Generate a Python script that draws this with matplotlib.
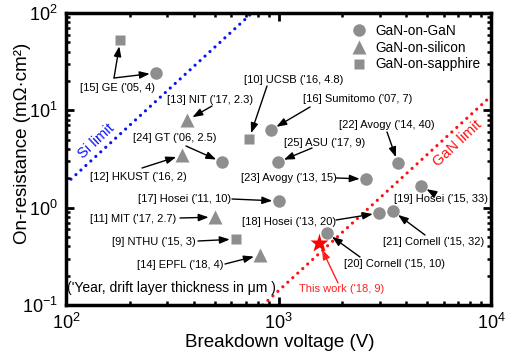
import matplotlib
matplotlib.use("Agg")
import matplotlib.pyplot as plt

plt.rcParams['font.family'] = ['Liberation Sans', 'DejaVu Sans']
plt.rcParams['mathtext.fontset'] = 'custom'
plt.rcParams['mathtext.rm'] = 'Liberation Sans'
plt.rcParams['mathtext.it'] = 'Liberation Sans:italic'
plt.rcParams['mathtext.default'] = 'regular'

# ---------------- data ----------------
gan_gan_names = ["GE05", "GT06", "Sumitomo07", "ASU17", "Avogy14", "Avogy13",
                 "Hosei15", "Hosei13", "Cornell15_32", "Cornell15_10", "Hosei11"]
gan_gan_bv = [265, 542, 922, 995, 3650, 2580, 4690, 2970, 3460, 1690, 1000]
gan_gan_ron = [24.2, 2.94, 6.28, 2.94, 2.87, 1.97, 1.67, 0.88, 0.92, 0.548, 1.17]

gan_si_names = ["NIT17", "HKUST16", "MIT17", "EPFL18"]
gan_si_bv = [371, 352, 502, 818]
gan_si_ron = [7.9, 3.47, 0.80, 0.326]

gan_sap_names = ["GE05s", "UCSB16", "NTHU15"]
gan_sap_bv = [180, 727, 631]
gan_sap_ron = [52.7, 5.07, 0.475]

this_work_bv = [1550]
this_work_ron = [0.433]

si_limit_bv = [100, 750]
si_limit_ron = [1.76, 100]
gan_limit_bv = [845, 10000]
gan_limit_ron = [0.1, 14.0]

legend_labels = ["GaN-on-GaN", "GaN-on-silicon", "GaN-on-sapphire"]

# label text, text centre (image px), arrow start (image px), targets
labels = [
    ("[15] GE ('05, 4)", (118, 88), (114, 78), ["GE05s", "GE05"]),
    ("[13] NIT ('17, 2.3)", (210, 100), (212, 106), ["NIT17"]),
    ("[24] GT ('06, 2.5)", (175, 138), (186, 146), ["GT06"]),
    ("[12] HKUST ('16, 2)", (138, 177), (142, 168), ["HKUST16"]),
    ("[10] UCSB ('16, 4.8)", (294, 80), (267, 86), ["UCSB16"]),
    ("[16] Sumitomo ('07, 7)", (358, 99), (310, 107), ["Sumitomo07"]),
    ("[22] Avogy ('14, 40)", (387, 125), (387, 132), ["Avogy14"]),
    ("[25] ASU ('17, 9)", (325, 143), (312, 148), ["ASU17"]),
    ("[23] Avogy ('13, 15)", (289, 178), (336, 178), ["Avogy13"]),
    ("[19] Hosei ('15, 33)", (441, 199), (433, 193), ["Hosei15"]),
    ("[18] Hosei ('13, 20)", (289, 222), (336, 220), ["Hosei13"]),
    ("[21] Cornell ('15, 32)", (434, 242), (425, 235), ["Cornell15_32"]),
    ("[20] Cornell ('15, 10)", (395, 264), (360, 257), ["Cornell15_10"]),
    ("[17] Hosei ('11, 10)", (185, 199), (232, 199), ["Hosei11"]),
    ("[11] MIT ('17, 2.7)", (133, 219), (180, 218), ["MIT17"]),
    ("[9] NTHU ('15, 3)", (154, 242), (198, 241), ["NTHU15"]),
    ("[14] EPFL ('18, 4)", (180, 265), (225, 264), ["EPFL18"]),
]

# ---------------- figure ----------------
W, H = 508, 354
fig = plt.figure(figsize=(W / 100, H / 100), dpi=100)
ax = fig.add_axes([66 / W, (H - 305) / H, 425 / W, 292 / H])
ax.set_xscale('log')
ax.set_yscale('log')
ax.set_xlim(100, 10000)
ax.set_ylim(0.1, 100)

gray = '#8e8e8e'
ax.plot(si_limit_bv, si_limit_ron, color='#0a14f0', lw=2.3,
        linestyle=(0, (0.01, 2.1)), dash_capstyle='round', zorder=1)
ax.plot(gan_limit_bv, gan_limit_ron, color='#ff1010', lw=2.3,
        linestyle=(0, (0.01, 2.1)), dash_capstyle='round', zorder=1)

h1, = ax.plot(gan_gan_bv, gan_gan_ron, 'o', color=gray, ms=9, mec='none', zorder=3)
h2, = ax.plot(gan_si_bv, gan_si_ron, '^', color=gray, ms=10, mec='none', zorder=3)
h3, = ax.plot(gan_sap_bv, gan_sap_ron, 's', color=gray, ms=7.5, mec='none', zorder=3)
ax.plot(this_work_bv, this_work_ron, '*', color='#ff0000', ms=14, mec='none', zorder=4)

ax.legend([h1, h2, h3], legend_labels, loc='upper right', frameon=False,
          fontsize=9.8, handletextpad=0.55, labelspacing=0.2,
          borderaxespad=0.4, handlelength=1.2, markerscale=1.0)

lookup = {}
for n, b, r in zip(gan_gan_names, gan_gan_bv, gan_gan_ron):
    lookup[n] = (b, r)
for n, b, r in zip(gan_si_names, gan_si_bv, gan_si_ron):
    lookup[n] = (b, r)
for n, b, r in zip(gan_sap_names, gan_sap_bv, gan_sap_ron):
    lookup[n] = (b, r)

arrow_kw = dict(arrowstyle='-|>,head_length=0.6,head_width=0.22', color='black',
                lw=1.0, shrinkA=0, shrinkB=4.5)

for text, (tx, ty), (sx, sy), targets in labels:
    ax.text(tx, H - ty, text, transform=None, ha='center', va='center',
            fontsize=8, zorder=5)
    for t in targets:
        ax.annotate('', xy=lookup[t], xycoords='data', xytext=(sx, H - sy),
                    textcoords='figure pixels', arrowprops=arrow_kw, zorder=5)

ax.text(342, H - 289, "This work ('18, 9)", transform=None, ha='center',
        va='center', fontsize=8, color='#ff2020', zorder=5)
ax.annotate('', xy=(this_work_bv[0], this_work_ron[0]), xycoords='data',
            xytext=(338, H - 283), textcoords='figure pixels',
            arrowprops=dict(arrowstyle='-|>,head_length=0.6,head_width=0.22',
                            color='#ff2020', lw=1.0, shrinkA=0, shrinkB=5), zorder=5)

ax.text(171, H - 288, "('Year, drift layer thickness in μm )", transform=None,
        ha='center', va='center', fontsize=10, zorder=5)

ax.text(96, H - 141, "Si limit", transform=None, ha='center', va='center',
        fontsize=10.5, color='#0a14f0', rotation=43)
ax.text(457, H - 143, "GaN limit", transform=None, ha='center', va='center',
        fontsize=10.5, color='#ff1010', rotation=43)

ax.set_xlabel("Breakdown voltage (V)", fontsize=13.5)
ax.set_ylabel("On-resistance (mΩ·cm²)", fontsize=13.5)
ax.xaxis.set_label_coords((280 - 66) / 425, -(334 - 305) / 292)
ax.yaxis.set_label_coords((31 - 66) / 425, (305 - 143) / 292)

for s in ax.spines.values():
    s.set_linewidth(2.5)
ax.tick_params(which='both', direction='in', top=True, right=True)
ax.tick_params(which='major', length=6, width=2, labelsize=13, pad=6)
ax.tick_params(which='minor', length=3, width=1.8)

fig.savefig('out.png', dpi=100)
